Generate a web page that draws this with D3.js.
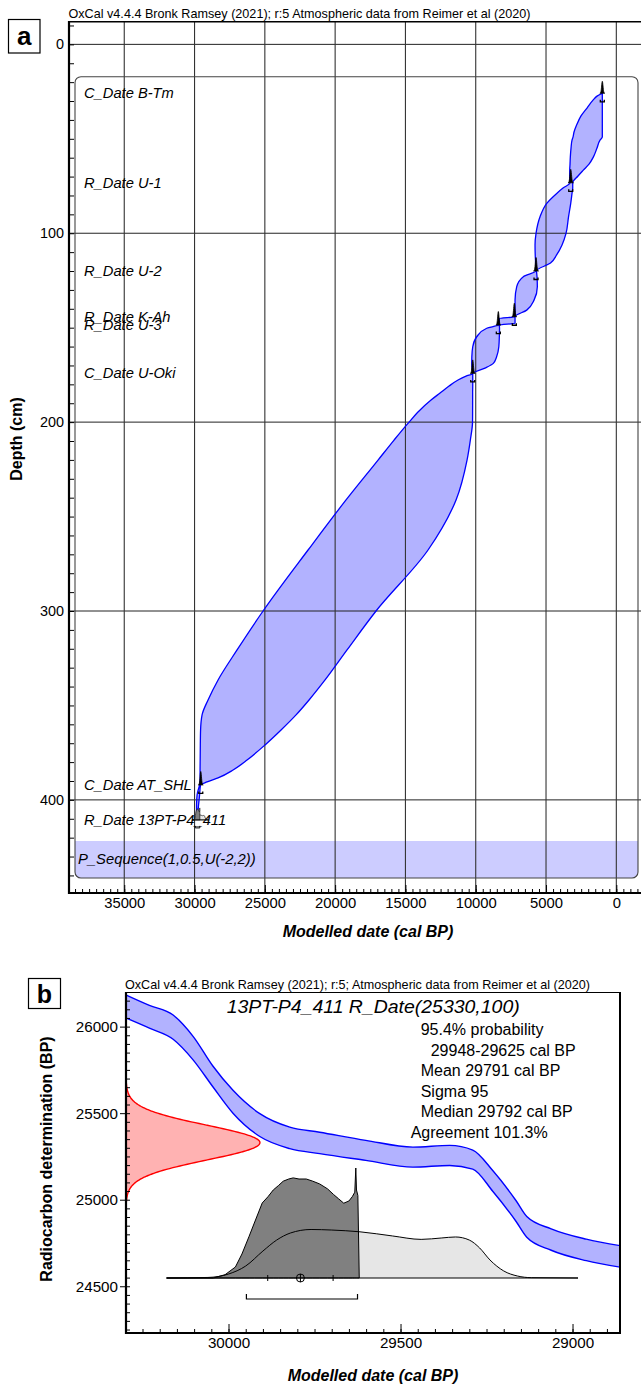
<!DOCTYPE html>
<html><head><meta charset="utf-8">
<script src="https://cdn.jsdelivr.net/npm/d3@7"></script>
<style>
body{margin:0;background:#fff}
svg{display:block}
text{font-family:"Liberation Sans",Arial,Helvetica,sans-serif;fill:#000}
</style>
</head><body>
<svg id="c" width="641" height="1388"></svg>
<script>
// ================= DATA =================
// Panel a : age-depth model
const titleA = "OxCal v4.4.4 Bronk Ramsey (2021); r:5 Atmospheric data from Reimer et al (2020)";
const depthTicks = [0, 100, 200, 300, 400];
const ageTicks = [35000, 30000, 25000, 20000, 15000, 10000, 5000, 0];
const envDepth = [25.9,27.4,29.5,33.7,37.9,42.2,46.4,49.1,50.7,54.9,59.7,63.4,66.6,69.7,73.3,
  76.1,78.9,84.2,91.3,100.1,106.2,111.5,115.8,119.9,
  123.0,128.3,135.4,140.7,144.2,
  145.1,147.7,148.6,
  150.3,154.8,160.1,165.5,168.9,171.4,174.2,
  175.6,177.7,180.9,184.6,188.3,194.1,200.0,209.5,220.1,241.2,267.7,300.0,320.6,336.5,347.1,355.0,363.0,370.9,378.9,384.2,388.4,390.5,392.1,
  397.4,402.7,408.0,410.6];
const envOld = [1017,1373,1657,2084,2511,2795,3008,3079,3151,3222,3272,3293,3314,3314,3293,
  3791,4239,4950,5426,5711,5782,5768,5739,5711,
  6614,7084,7204,7204,7204,
  8321,8321,8392,
  9217,9928,10213,10277,10284,10263,10213,
  10689,11258,11898,12538,13179,14032,14743,15810,16948,19224,21926,25127,26976,28327,29039,29465,29571,29590,29600,29607,29607,29607,29643,
  29821,29856,29856,29842];
const envYoung = [996,996,996,996,996,996,996,996,1159,1373,1636,1942,2347,2724,3101,
  3101,3151,3243,3400,3577,3862,4246,4680,5675,
  5640,5618,5853,6372,7204,
  7204,7204,8321,
  8307,8321,8357,8520,8748,9338,10213,
  10213,10213,10213,10220,10220,10222,10227,10383,10618,11400,13392,17090,19153,20717,21855,22780,23847,24984,26265,27260,28327,29109,29571,
  29643,29714,29785,29842];
const dateNames = ["C_Date B-Tm","R_Date U-1","R_Date U-2","R_Date K-Ah","R_Date U-3","C_Date U-Oki","C_Date AT_SHL","R_Date 13PT-P4_411"];
const dateDepths = [25.9, 73.3, 120, 144.2, 148.6, 174.2, 392.1, 410.6];
const dateAges = [996, 3243, 5711, 7254, 8392, 10213, 29558, 29791];
const dateSpread = [15, 55, 50, 45, 40, 30, 35, 95];
const seqName = "P_Sequence(1,0.5,U(-2,2))";

// Panel b : single date calibration
const titleB = "OxCal v4.4.4 Bronk Ramsey (2021); r:5; Atmospheric data from Reimer et al (2020)";
const sampleTitle = "13PT-P4_411 R_Date(25330,100)";
const infoLines = ["95.4% probability", "29948-29625 cal BP", "Mean 29791 cal BP", "Sigma 95", "Median 29792 cal BP", "Agreement 101.3%"];
const c14Mean = 25330, c14Sigma = 100;
const bpTicks = [24500, 25000, 25500, 26000];
const calTicks = [30000, 29500, 29000];
const calAge   = [30300,30230,30161,30103,30045,29987,29909,29822,29735,29601,29464,29357,29290,29232,29164,29133,29062,28960,28860];
const calMean  = [26118,26057,25997,25876,25711,25566,25431,25357,25328,25285,25246,25256,25232,25109,24934,24843,24770,24710,24672];
const calSigma = [67,66,70,68,60,66,66,62,62,58,58,58,55,60,60,60,62,62,62];
const likeAge  = [30180,30060,30000,29950,29900,29860,29820,29760,29700,29618,29523,29440,29380,29340,29300,29270,29240,29200,29160,29120,28984];
const likeProb = [0,0.005,0.036,0.109,0.245,0.345,0.409,0.441,0.436,0.42,0.382,0.351,0.364,0.373,0.345,0.273,0.164,0.064,0.018,0.003,0];
const postAge  = [30180,30044,30010,29980,29961,29940,29925,29902,29885,29870,29855,29841,29825,29812,29795,29774,29755,29735,29712,29695,29680,29665,29650,29640,29633,29630,29628,29624,29620];
const postProb = [0,0,0.03,0.1,0.218,0.38,0.5,0.682,0.74,0.8,0.84,0.88,0.9,0.91,0.9,0.9,0.88,0.855,0.81,0.76,0.72,0.68,0.7,0.74,0.78,1,0.8,0.75,0];
const range95 = [29948, 29625];
const calMeanAge = 29791, calSig = 95;

// ================= DRAW =================
const svg = d3.select("#c");
const defs = svg.append("defs");

// ---------- Panel a ----------
const xA = d3.scaleLinear().domain([38930, -2040]).range([69, 645]);
const yA = d3.scaleLinear().domain([-12, 449.3]).range([21.7, 893]);
const gA = svg.append("g");

gA.append("text").attr("x", 68.5).attr("y", 18).attr("font-size", 12.4)
  .attr("textLength", 462).attr("lengthAdjust", "spacingAndGlyphs").text(titleA);

gA.append("rect").attr("x", 8.5).attr("y", 19.5).attr("width", 31.5).attr("height", 33.5)
  .attr("fill", "#fff").attr("stroke", "#000").attr("stroke-width", 1.2);
gA.append("text").attr("x", 24.3).attr("y", 45).attr("text-anchor", "middle")
  .attr("font-size", 26).attr("font-weight", "bold").text("a");

defs.append("clipPath").attr("id", "bandClip").append("rect")
  .attr("x", 0).attr("y", 841).attr("width", 641).attr("height", 60);
defs.append("clipPath").attr("id", "plotA").append("rect")
  .attr("x", 69).attr("y", 21.7).attr("width", 580).attr("height", 872);
gA.append("rect").attr("x", 75).attr("y", 76.7).attr("width", 563).attr("height", 801.3)
  .attr("rx", 6).attr("fill", "#ccccff").attr("clip-path", "url(#bandClip)");

const envRows = envDepth.map((d, i) => ({d, o: envOld[i], y: envYoung[i]}));
const envArea = d3.area().curve(d3.curveMonotoneY)
  .y(r => yA(r.d)).x0(r => xA(r.o)).x1(r => xA(r.y));
gA.append("path").attr("d", envArea(envRows)).attr("fill", "#0000ff").attr("fill-opacity", 0.3);

const gridA = gA.append("g").attr("clip-path", "url(#plotA)");
gridA.selectAll("line.hg").data(depthTicks).join("line").attr("class", "hg")
  .attr("x1", 69).attr("x2", 645).attr("y1", d => yA(d)).attr("y2", d => yA(d))
  .attr("stroke", "#222").attr("stroke-width", 1);
gridA.selectAll("line.vg").data(ageTicks).join("line").attr("class", "vg")
  .attr("x1", d => xA(d)).attr("x2", d => xA(d)).attr("y1", 21.7).attr("y2", 893)
  .attr("stroke", "#333").attr("stroke-width", 1.1);

gA.append("rect").attr("x", 75).attr("y", 76.7).attr("width", 563).attr("height", 801.3)
  .attr("rx", 6).attr("fill", "none").attr("stroke", "#444").attr("stroke-width", 1.1);

gA.append("path").attr("d", envArea(envRows)).attr("fill", "none")
  .attr("stroke", "#0000ff").attr("stroke-width", 1.3);

function gaussPath(cx, base, sig, h) {
  const pts = d3.range(-3.5, 3.51, 0.25).map(t => [cx + t * sig, base - h * Math.exp(-0.5 * t * t)]);
  return d3.line()(pts) + "Z";
}
dateNames.forEach((n, i) => {
  if (i === dateNames.length - 1) return;
  const cx = xA(dateAges[i]);
  const base = yA(dateDepths[i]);
  const sig = Math.max(0.7, Math.abs(xA(0) - xA(dateSpread[i])));
  const h = i === 0 ? 12 : 13.5;
  gA.append("path").attr("d", gaussPath(cx, base, sig, h)).attr("fill", "#000")
    .attr("stroke", "#000").attr("stroke-width", 0.8);
  const by = base + 8.5;
  gA.append("path").attr("d", `M${cx - 2},${by - 2}V${by}H${cx + 2}V${by - 2}`)
    .attr("fill", "none").attr("stroke", "#000").attr("stroke-width", 1.3);
});

{
  const base = yA(dateDepths[dateDepths.length - 1]);
  const hs = d3.scaleLinear().domain([0, 1]).range([base, base - 12]);
  const la = d3.area().x((d, i) => xA(likeAge[i])).y0(base).y1((d, i) => hs(likeProb[i]));
  const pa = d3.area().x((d, i) => xA(postAge[i])).y0(base).y1((d, i) => hs(postProb[i]));
  gA.append("path").attr("d", la(likeAge)).attr("fill", "#e6e6e6").attr("stroke", "#000").attr("stroke-width", 0.6);
  gA.append("path").attr("d", pa(postAge)).attr("fill", "#808080").attr("stroke", "#000").attr("stroke-width", 0.6);
  gA.append("line").attr("x1", xA(likeAge[0])).attr("x2", xA(likeAge[likeAge.length - 1]))
    .attr("y1", base).attr("y2", base).attr("stroke", "#000").attr("stroke-width", 0.8);
  const by = base + 8;
  gA.append("path").attr("d", `M${xA(range95[0])},${by - 2}V${by}H${xA(range95[1])}V${by - 2}`)
    .attr("fill", "none").attr("stroke", "#000").attr("stroke-width", 1);
}

gA.selectAll("text.lab").data(dateNames).join("text").attr("class", "lab")
  .attr("x", 84).attr("y", (d, i) => yA(dateDepths[i]) + 5)
  .attr("font-size", 14.7).attr("font-style", "italic").attr("fill", "#222").text(d => d);
gA.append("text").attr("x", 78).attr("y", 864).attr("font-size", 14.8)
  .attr("font-style", "italic").attr("fill", "#222").text(seqName);

gA.append("line").attr("x1", 69).attr("x2", 645).attr("y1", 21.7).attr("y2", 21.7)
  .attr("stroke", "#000").attr("stroke-width", 1.4);
const yAxA = gA.append("g").attr("transform", "translate(69,0)")
  .call(d3.axisLeft(yA).tickValues(depthTicks).tickSize(0).tickPadding(5).tickFormat(d3.format("d")));
yAxA.select(".domain").remove();
yAxA.selectAll("text").attr("font-size", 14.4).attr("font-family", null);
const yMinA = gA.append("g").attr("transform", "translate(69,0)")
  .call(d3.axisRight(yA).tickValues(d3.range(-10, 450, 10)).tickSize(5).tickFormat(""));
yMinA.select(".domain").remove();
gA.append("line").attr("x1", 69).attr("x2", 69).attr("y1", 21).attr("y2", 894)
  .attr("stroke", "#000").attr("stroke-width", 2.2);
const xLabA = gA.append("g").attr("transform", "translate(0,893)")
  .call(d3.axisBottom(xA).tickValues(ageTicks).tickSize(0).tickPadding(4).tickFormat(d3.format("d")));
xLabA.select(".domain").remove();
xLabA.selectAll("text").attr("font-size", 14.8).attr("font-family", null);
const xMinA = gA.append("g").attr("transform", "translate(0,893)")
  .call(d3.axisTop(xA).tickValues(d3.range(-1500, 38600, 500)).tickSize(4).tickFormat(""));
xMinA.select(".domain").remove();
const xMajA = gA.append("g").attr("transform", "translate(0,893)")
  .call(d3.axisTop(xA).tickValues(ageTicks).tickSize(8).tickFormat(""));
xMajA.select(".domain").remove();
gA.append("line").attr("x1", 68).attr("x2", 645).attr("y1", 893).attr("y2", 893)
  .attr("stroke", "#000").attr("stroke-width", 2.2);

gA.append("text").attr("x", 368).attr("y", 936.5).attr("text-anchor", "middle")
  .attr("font-size", 16).attr("font-weight", "bold").attr("font-style", "italic")
  .text("Modelled date (cal BP)");
gA.append("text").attr("transform", "translate(22,439) rotate(-90)").attr("text-anchor", "middle")
  .attr("font-size", 16).attr("font-weight", "bold").text("Depth (cm)");

// ---------- Panel b ----------
const xB = d3.scaleLinear().domain([30298, 28862]).range([126, 620]);
const yB = d3.scaleLinear().domain([26200, 24230]).range([992, 1333]);
const gB = svg.append("g");
defs.append("clipPath").attr("id", "plotB").append("rect")
  .attr("x", 126).attr("y", 992).attr("width", 494).attr("height", 341);

gB.append("text").attr("x", 125).attr("y", 989.3).attr("font-size", 12.4)
  .attr("textLength", 465).attr("lengthAdjust", "spacingAndGlyphs").text(titleB);
gB.append("rect").attr("x", 28.5).attr("y", 978.5).attr("width", 32).attr("height", 30)
  .attr("fill", "#fff").attr("stroke", "#000").attr("stroke-width", 1.2);
gB.append("text").attr("x", 44.5).attr("y", 1003).attr("text-anchor", "middle")
  .attr("font-size", 25).attr("font-weight", "bold").text("b");

const plotB = gB.append("g").attr("clip-path", "url(#plotB)");
const calRows = calAge.map((a, i) => ({a, m: calMean[i], s: calSigma[i]}));
const calArea = d3.area().curve(d3.curveMonotoneX)
  .x(r => xB(r.a)).y0(r => yB(r.m - r.s)).y1(r => yB(r.m + r.s));
plotB.append("path").attr("d", calArea(calRows)).attr("fill", "#0000ff").attr("fill-opacity", 0.3);
plotB.append("path").attr("d", calArea.lineY0()(calRows)).attr("fill", "none").attr("stroke", "#0000ff").attr("stroke-width", 1.4);
plotB.append("path").attr("d", calArea.lineY1()(calRows)).attr("fill", "none").attr("stroke", "#0000ff").attr("stroke-width", 1.4);

const pxC = d3.scaleLinear().domain([0, 1]).range([126, 260]);
const c14pts = d3.range(-4, 4.001, 0.05).map(z => ({bp: c14Mean + z * c14Sigma, p: Math.exp(-0.5 * z * z)}));
const c14Area = d3.area().curve(d3.curveBasis).y(d => yB(d.bp)).x0(pxC(0)).x1(d => pxC(d.p));
plotB.append("path").attr("d", c14Area(c14pts)).attr("fill", "#ff0000").attr("fill-opacity", 0.3);
plotB.append("path").attr("d", d3.line().curve(d3.curveBasis).x(d => pxC(d.p)).y(d => yB(d.bp))(c14pts))
  .attr("fill", "none").attr("stroke", "#ff0000").attr("stroke-width", 1.4);

const baseB = 1278;
const yP = d3.scaleLinear().domain([0, 1]).range([baseB, baseB - 110]);
const likeA = d3.area().curve(d3.curveMonotoneX).x((d, i) => xB(likeAge[i])).y0(baseB).y1((d, i) => yP(likeProb[i]));
const postA = d3.area().curve(d3.curveLinear).x((d, i) => xB(postAge[i])).y0(baseB).y1((d, i) => yP(postProb[i]));
gB.append("path").attr("d", likeA(likeAge)).attr("fill", "#e6e6e6");
gB.append("path").attr("d", postA(postAge)).attr("fill", "#808080").attr("stroke", "#000").attr("stroke-width", 1);
gB.append("path").attr("d", likeA.lineY1()(likeAge)).attr("fill", "none").attr("stroke", "#000").attr("stroke-width", 1);
gB.append("line").attr("x1", xB(likeAge[0])).attr("x2", xB(likeAge[likeAge.length - 1]))
  .attr("y1", baseB).attr("y2", baseB).attr("stroke", "#000").attr("stroke-width", 1.1);
[calMeanAge + calSig, calMeanAge - calSig].forEach(a => {
  gB.append("line").attr("x1", xB(a)).attr("x2", xB(a)).attr("y1", baseB - 3).attr("y2", baseB + 3)
    .attr("stroke", "#000").attr("stroke-width", 1);
});
gB.append("circle").attr("cx", xB(calMeanAge)).attr("cy", baseB).attr("r", 4)
  .attr("fill", "none").attr("stroke", "#000").attr("stroke-width", 1);
gB.append("line").attr("x1", xB(calMeanAge)).attr("x2", xB(calMeanAge)).attr("y1", baseB - 4).attr("y2", baseB + 4)
  .attr("stroke", "#000").attr("stroke-width", 1);
gB.append("path").attr("d", `M${xB(range95[0])},${baseB + 16}V${baseB + 21}H${xB(range95[1])}V${baseB + 16}`)
  .attr("fill", "none").attr("stroke", "#000").attr("stroke-width", 1.2);

gB.append("text").attr("x", 226.7).attr("y", 1013.3).attr("font-size", 18.5).attr("font-style", "italic")
  .attr("textLength", 293).attr("lengthAdjust", "spacingAndGlyphs").text(sampleTitle);
gB.selectAll("text.info").data(infoLines).join("text").attr("class", "info")
  .attr("x", (d, i) => i === 1 ? 430.7 : (i === infoLines.length - 1 ? 410.7 : 420.7))
  .attr("y", (d, i) => 1035 + i * 20.6).attr("font-size", 16).text(d => d);

gB.append("line").attr("x1", 126).attr("x2", 620).attr("y1", 992.5).attr("y2", 992.5).attr("stroke", "#000").attr("stroke-width", 1.2);
gB.append("line").attr("x1", 620).attr("x2", 620).attr("y1", 992).attr("y2", 1334).attr("stroke", "#000").attr("stroke-width", 2);
const yAxB = gB.append("g").attr("transform", "translate(126,0)")
  .call(d3.axisLeft(yB).tickValues(bpTicks).tickSize(6).tickPadding(2).tickFormat(d3.format("d")));
yAxB.select(".domain").remove();
yAxB.selectAll("text").attr("font-size", 15.2).attr("font-family", null);
const yMinB = gB.append("g").attr("transform", "translate(126,0)")
  .call(d3.axisRight(yB).tickValues(d3.range(24250, 26200, 50)).tickSize(4).tickFormat(""));
yMinB.select(".domain").remove();
gB.append("line").attr("x1", 126).attr("x2", 126).attr("y1", 992).attr("y2", 1334).attr("stroke", "#000").attr("stroke-width", 2.2);
const xLabB = gB.append("g").attr("transform", "translate(0,1333)")
  .call(d3.axisBottom(xB).tickValues(calTicks).tickSize(0).tickPadding(4).tickFormat(d3.format("d")));
xLabB.select(".domain").remove();
xLabB.selectAll("text").attr("font-size", 15.2).attr("font-family", null);
const xMinB = gB.append("g").attr("transform", "translate(0,1333)")
  .call(d3.axisTop(xB).tickValues(d3.range(28900, 30300, 50)).tickSize(4).tickFormat(""));
xMinB.select(".domain").remove();
const xMajB = gB.append("g").attr("transform", "translate(0,1333)")
  .call(d3.axisTop(xB).tickValues(calTicks).tickSize(9).tickFormat(""));
xMajB.select(".domain").remove();
gB.append("line").attr("x1", 125).attr("x2", 621).attr("y1", 1333).attr("y2", 1333).attr("stroke", "#000").attr("stroke-width", 2.2);

gB.append("text").attr("x", 373).attr("y", 1381).attr("text-anchor", "middle")
  .attr("font-size", 16).attr("font-weight", "bold").attr("font-style", "italic")
  .text("Modelled date (cal BP)");
gB.append("text").attr("transform", "translate(52,1159) rotate(-90)").attr("text-anchor", "middle")
  .attr("font-size", 16).attr("font-weight", "bold").text("Radiocarbon determination (BP)");
</script>
</body></html>
